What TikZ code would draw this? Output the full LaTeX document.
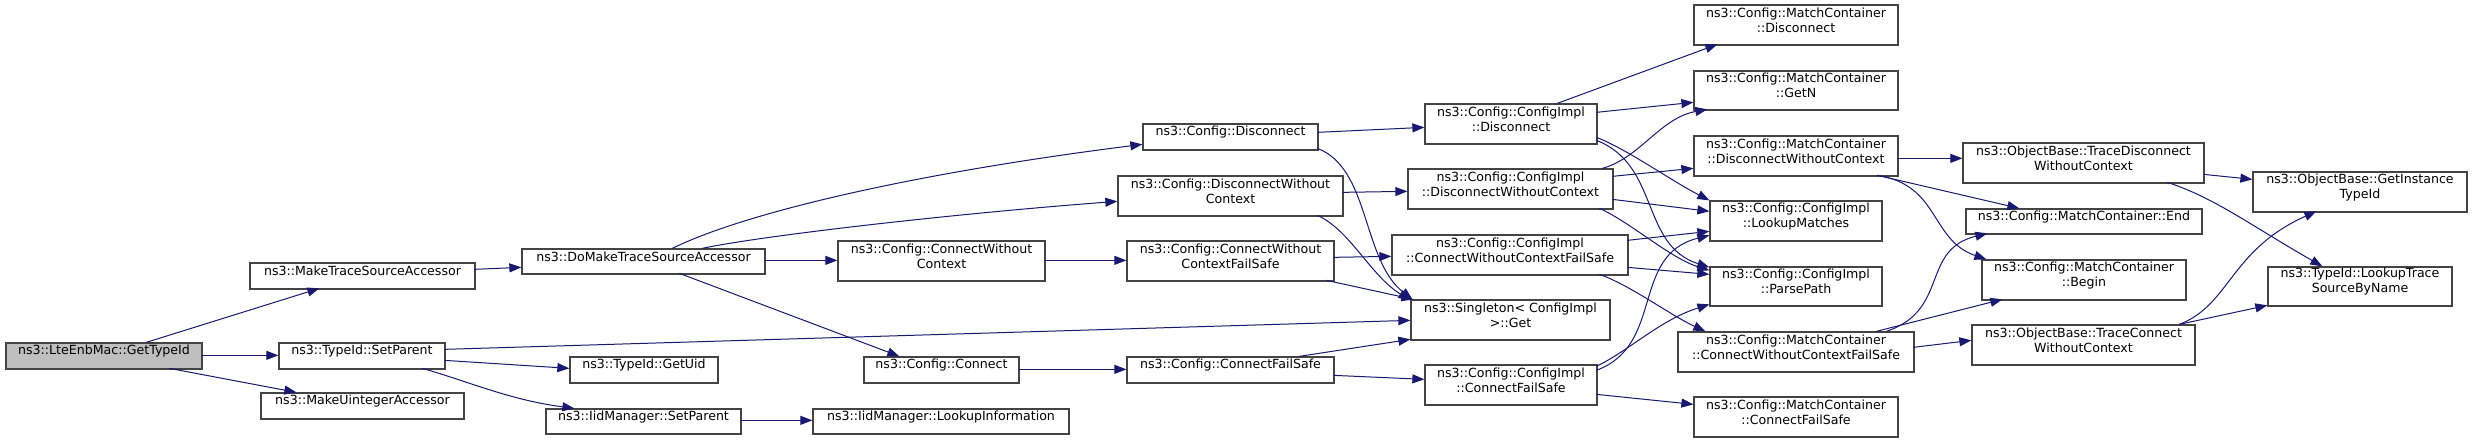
\documentclass[tikz,border=0pt]{standalone}
\usepackage{fontspec}
\setmainfont{DejaVu Sans}
\usetikzlibrary{arrows.meta,fit,calc}
\definecolor{edgec}{HTML}{191970}
\definecolor{boxc}{HTML}{444444}
\definecolor{grayfill}{HTML}{BFBFBF}
\tikzset{
  box/.style={draw=boxc, line width=0.65pt, fill=white, inner sep=0pt, align=center, font=\fontsize{6.3}{7.5}\selectfont},
  lbox/.style={box, align=left},
  call/.style={draw=edgec, line width=0.5pt, -{Triangle[length=6pt,width=4.5pt]}, color=edgec}
}
\newcommand\edgeS[4]{\draw[call] ($(#1.north west)+(#2)$) -- ($(#3.north west)+(#4)$);}
\newcommand\edgeC[6]{\draw[call] ($(#1.north west)+(#2)$) .. controls (#5) and (#6) .. ($(#3.north west)+(#4)$);}
\begin{document}
\begin{tikzpicture}[x=0.5pt,y=-0.5pt]
\path[use as bounding box, fill=white] (0,0) rectangle (2472,443);
% nodes
\node[box, fill=grayfill, fit={(6,343) (202,369)}] (gt) {ns3::LteEnbMac::GetTypeId};
\node[box, fit={(250,263) (475,289)}] (mtsa) {ns3::MakeTraceSourceAccessor};
\node[box, fit={(279,343) (445,369)}] (tsp) {ns3::TypeId::SetParent};
\node[box, fit={(261,393) (464,419)}] (mua) {ns3::MakeUintegerAccessor};
\node[box, fit={(522,249) (765,274)}] (dm) {ns3::DoMakeTraceSourceAccessor};
\node[box, fit={(570,357) (718,383)}] (uid) {ns3::TypeId::GetUid};
\node[box, fit={(546,409) (741,434)}] (isp) {ns3::IidManager::SetParent};
\node[box, fit={(813,409) (1069,434)}] (ili) {ns3::IidManager::LookupInformation};
\node[box, fit={(838,241) (1045,281)}] (cwc) {ns3::Config::ConnectWithout\\Context};
\node[box, fit={(864,357) (1019,383)}] (cc) {ns3::Config::Connect};
\node[box, fit={(1143,124) (1318,150)}] (cd) {ns3::Config::Disconnect};
\node[box, fit={(1118,176) (1343,216)}] (cdwc) {ns3::Config::DisconnectWithout\\Context};
\node[box, fit={(1127,241) (1334,281)}] (ccwfs) {ns3::Config::ConnectWithout\\ContextFailSafe};
\node[box, fit={(1127,357) (1334,383)}] (ccfs) {ns3::Config::ConnectFailSafe};
\node[box, fit={(1425,104) (1597,144)}] (id) {ns3::Config::ConfigImpl\\::Disconnect};
\node[lbox, fit={(1408,169) (1613,209)}] (idwc) {ns3::Config::ConfigImpl\\::DisconnectWithoutContext};
\node[lbox, fit={(1392,235) (1628,275)}] (icwfs) {ns3::Config::ConfigImpl\\::ConnectWithoutContextFailSafe};
\node[box, fit={(1411,300) (1610,340)}] (sg) {ns3::Singleton< ConfigImpl\\>::Get};
\node[box, fit={(1425,365) (1597,405)}] (icfs) {ns3::Config::ConfigImpl\\::ConnectFailSafe};
\node[box, fit={(1694,5) (1898,45)}] (md) {ns3::Config::MatchContainer\\::Disconnect};
\node[box, fit={(1694,71) (1898,110)}] (mn) {ns3::Config::MatchContainer\\::GetN};
\node[lbox, fit={(1694,136) (1898,176)}] (mdwc) {ns3::Config::MatchContainer\\::DisconnectWithoutContext};
\node[box, fit={(1710,201) (1882,241)}] (lm) {ns3::Config::ConfigImpl\\::LookupMatches};
\node[box, fit={(1710,267) (1882,306)}] (pp) {ns3::Config::ConfigImpl\\::ParsePath};
\node[lbox, fit={(1678,332) (1914,372)}] (mcwfs) {ns3::Config::MatchContainer\\::ConnectWithoutContextFailSafe};
\node[box, fit={(1694,397) (1898,437)}] (mcfs) {ns3::Config::MatchContainer\\::ConnectFailSafe};
\node[box, fit={(1963,143) (2204,183)}] (otd) {ns3::ObjectBase::TraceDisconnect\\WithoutContext};
\node[box, fit={(1966,209) (2202,234)}] (me) {ns3::Config::MatchContainer::End};
\node[box, fit={(1982,260) (2186,300)}] (mb) {ns3::Config::MatchContainer\\::Begin};
\node[box, fit={(1972,325) (2195,365)}] (otc) {ns3::ObjectBase::TraceConnect\\WithoutContext};
\node[box, fit={(2253,172) (2467,212)}] (ogi) {ns3::ObjectBase::GetInstance\\TypeId};
\node[box, fit={(2268,267) (2452,306)}] (olt) {ns3::TypeId::LookupTrace\\SourceByName};
% edges
\edgeS{gt}{141,0}{mtsa}{70,26}
\edgeS{gt}{196,13}{tsp}{0,13}
\edgeS{gt}{164,26}{mua}{36,0}
\edgeS{mtsa}{225,7}{dm}{0,19}
\edgeC{dm}{151,0}{cd}{0,21}{740,215}{900,175}
\edgeC{dm}{181,0}{cdwc}{0,26}{760,236}{950,214}
\edgeS{dm}{243,12}{cwc}{0,20}
\edgeS{dm}{158,25}{cc}{36,0}
\edgeS{tsp}{166,7}{sg}{0,21}
\edgeS{tsp}{166,18}{uid}{0,12}
\edgeC{tsp}{144,26}{isp}{29,0}{470,382}{510,400}
\edgeS{isp}{195,12}{ili}{0,12}
\edgeS{cwc}{207,20}{ccwfs}{0,20}
\edgeS{cc}{155,13}{ccfs}{0,13}
\edgeS{cd}{175,9}{id}{0,24}
\edgeC{cd}{175,25}{sg}{2,0}{1370,168}{1362,260}
\edgeS{cdwc}{225,17}{idwc}{0,23}
\edgeC{cdwc}{200,40}{sg}{0,1}{1350,230}{1370,275}
\edgeS{ccwfs}{207,17}{icwfs}{0,22}
\edgeS{ccwfs}{200,40}{sg}{3,0}
\edgeS{ccfs}{173,0}{sg}{0,40}
\edgeS{ccfs}{207,19}{icfs}{0,15}
\edgeS{id}{133,0}{md}{24,40}
\edgeS{id}{172,9}{mn}{0,32}
\edgeC{id}{172,34}{lm}{0,0}{1625,148}{1670,180}
\edgeC{id}{172,37}{pp}{0,1}{1660,165}{1640,245}
\edgeC{idwc}{195,0}{mn}{14,39}{1640,158}{1660,118}
\edgeS{idwc}{205,8}{mdwc}{0,33}
\edgeS{idwc}{205,31}{lm}{0,11}
\edgeC{idwc}{192,40}{pp}{0,4}{1630,222}{1670,258}
\edgeS{icwfs}{236,6}{lm}{0,31}
\edgeS{icwfs}{236,33}{pp}{0,8}
\edgeC{icwfs}{208,40}{mcwfs}{28,0}{1630,285}{1670,315}
\edgeC{icfs}{172,6}{lm}{0,35}{1665,345}{1630,255}
\edgeC{icfs}{172,2}{pp}{0,38}{1630,350}{1660,320}
\edgeS{icfs}{172,30}{mcfs}{0,8}
\edgeS{mdwc}{204,23}{otd}{0,16}
\edgeS{mdwc}{184,40}{me}{54,0}
\edgeC{mdwc}{184,40}{mb}{5,0}{1940,185}{1930,240}
\edgeC{mcwfs}{209,0}{me}{22,25}{1950,310}{1920,250}
\edgeS{mcwfs}{199,0}{mb}{21,40}
\edgeS{mcwfs}{236,16}{otc}{0,16}
\edgeS{otd}{241,32}{ogi}{0,8}
\edgeC{otd}{205,40}{olt}{55,0}{2215,198}{2250,225}
\edgeC{otc}{208,0}{ogi}{64,40}{2230,305}{2230,250}
\edgeS{otc}{208,0}{olt}{0,39}
\end{tikzpicture}
\end{document}
